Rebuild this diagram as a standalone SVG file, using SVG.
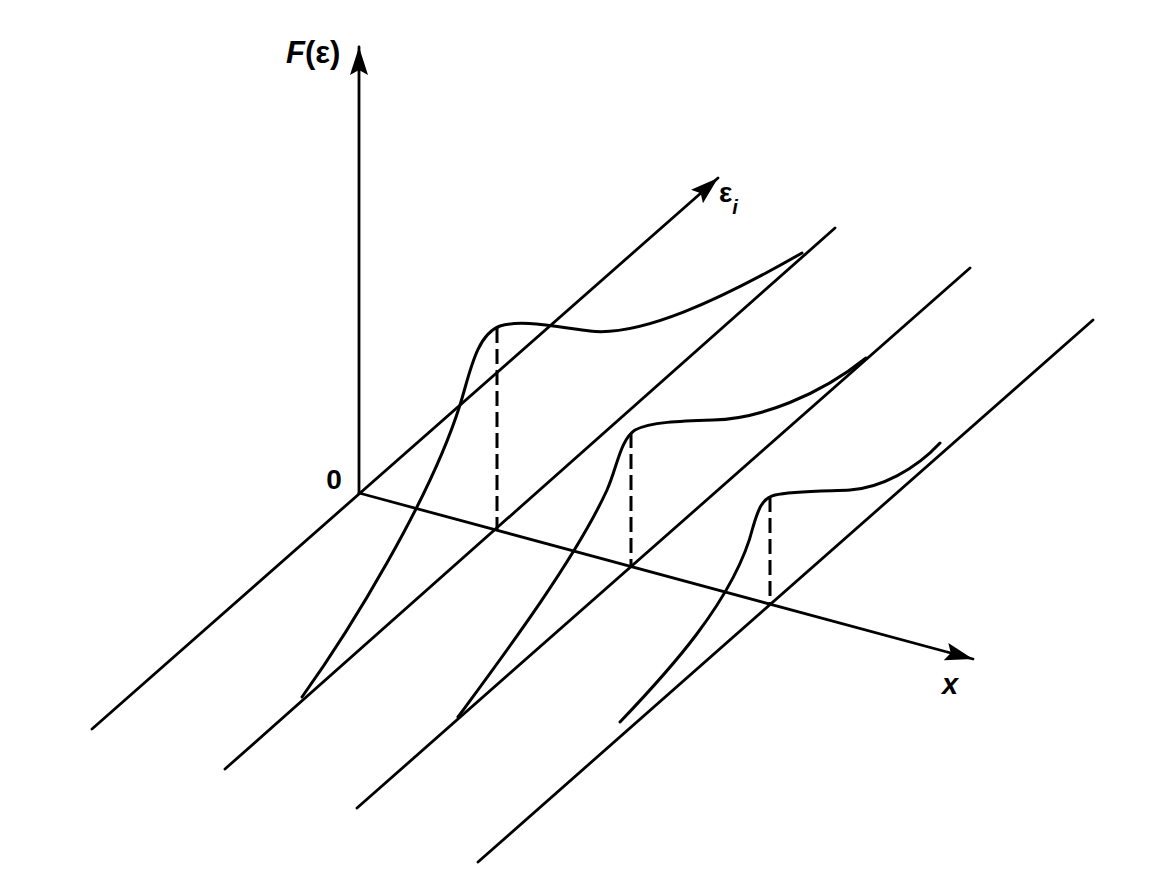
<svg xmlns="http://www.w3.org/2000/svg" width="1172" height="877" viewBox="0 0 1172 877">
<style>
.ln{stroke:#000;stroke-width:2.8;fill:none;stroke-linecap:round}
.cv{stroke:#000;stroke-width:3;fill:none;stroke-linecap:round}
.ds{stroke:#000;stroke-width:3;fill:none;stroke-dasharray:15 6}
.lbl{font-family:"Liberation Sans",Arial,sans-serif;fill:#000;font-weight:bold}
</style>
<defs>
<marker id="ah" viewBox="0 0 28 18" refX="28" refY="9" markerWidth="28" markerHeight="18" markerUnits="userSpaceOnUse" orient="auto">
<path d="M0,0 L28,9 L0,18 L5,9 z" fill="#000"/>
</marker>
</defs>
<rect width="1172" height="877" fill="#fff"/>
<g id="axes">
<line class="ln" x1="359" y1="493" x2="359" y2="47" marker-end="url(#ah)"/>
<line class="ln" x1="92" y1="729" x2="718" y2="178" marker-end="url(#ah)"/>
<line class="ln" x1="359" y1="493" x2="973" y2="659" marker-end="url(#ah)"/>
</g>
<g id="rails">
<line class="ln" x1="225" y1="769" x2="835" y2="228"/>
<line class="ln" x1="357" y1="808" x2="970" y2="268"/>
<line class="ln" x1="478" y1="862" x2="1093" y2="320"/>
</g>
<g id="curves">
<path class="cv" d="M302,697 C350,630 430,500 460,405 C470,373 476,335 500,326 C520,320 545,325 590,331 C640,337 720,300 802,253"/>
<path class="cv" d="M458,717 C500,660 575,560 607,490 C617,468 620,440 635,430 C650,422 680,421 713,420 C760,419 820,395 866,358"/>
<path class="cv" d="M620,722 C665,675 735,600 753,527 C758,510 762,498 775,495 C790,491 830,491 850,490 C880,488 915,470 940,443"/>
</g>
<g id="dashes">
<line class="ds" x1="497" y1="328" x2="497" y2="530"/>
<line class="ds" x1="631" y1="433" x2="631" y2="567"/>
<line class="ds" x1="770" y1="497" x2="770" y2="605"/>
</g>
<g id="labels">
<text class="lbl" x="286" y="63" font-size="31"><tspan font-style="italic">F</tspan>(ε)</text>
<text class="lbl" x="334" y="489" font-size="28" text-anchor="middle">0</text>
<text class="lbl" x="719" y="202" font-size="28">ε<tspan font-size="20" font-style="italic" dy="12">i</tspan></text>
<text class="lbl" x="942" y="694" font-size="29" font-style="italic">x</text>
</g>
</svg>
